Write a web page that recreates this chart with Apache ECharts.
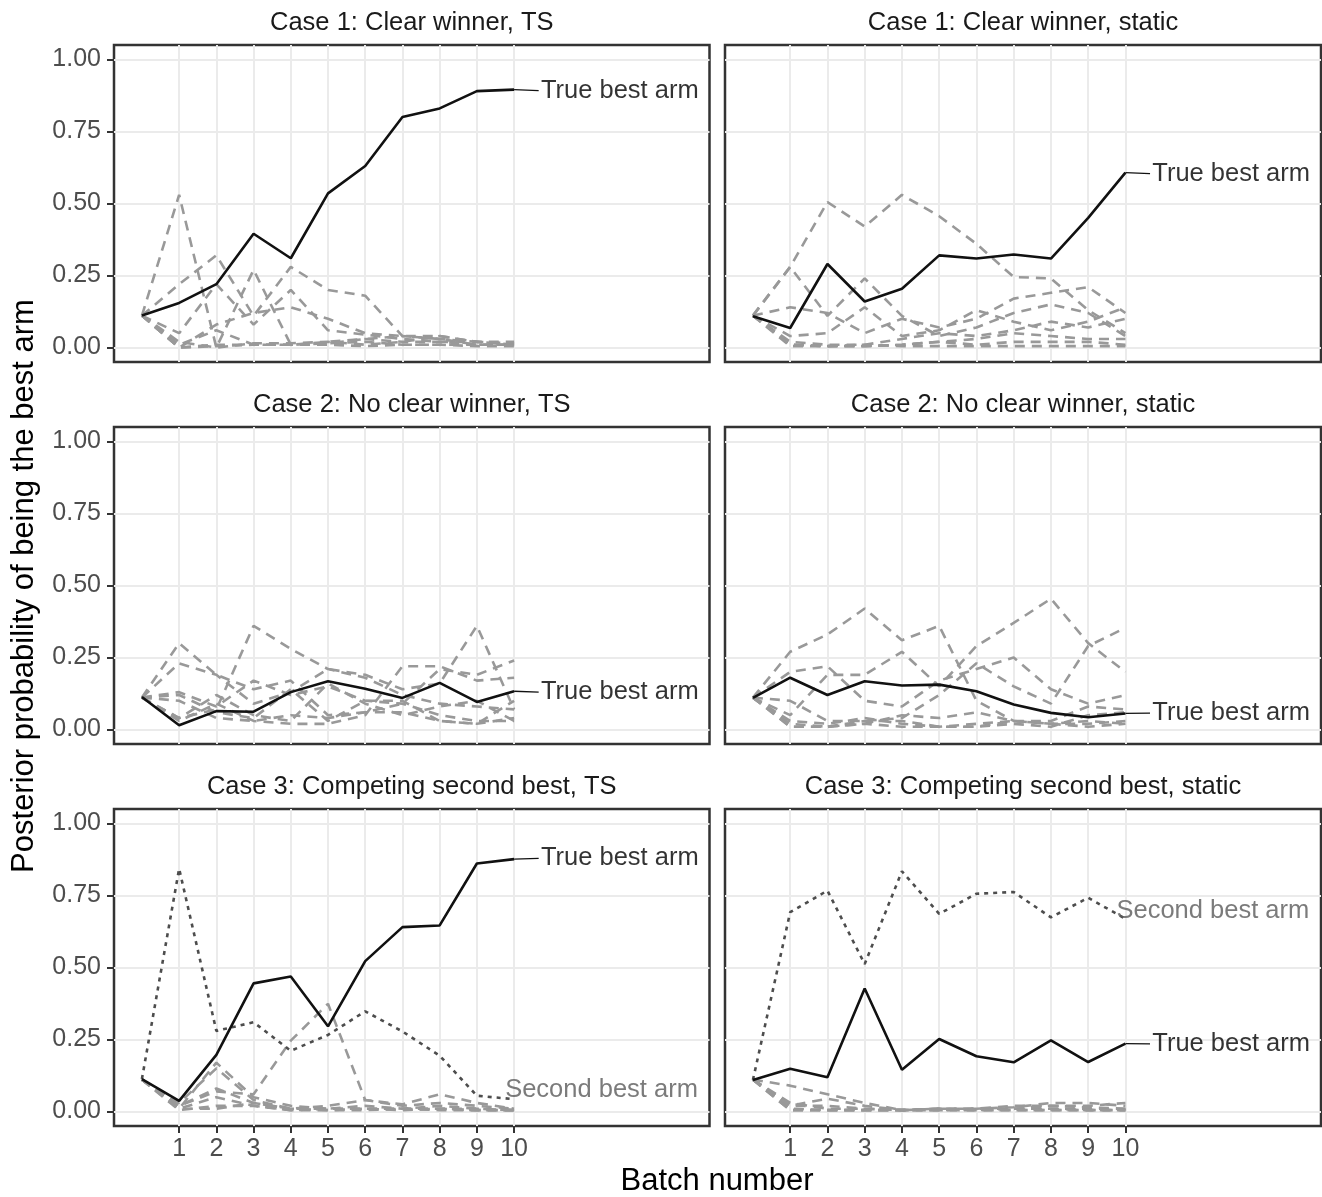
<!DOCTYPE html>
<html><head><meta charset="utf-8">
<script src="https://cdn.jsdelivr.net/npm/echarts@6/dist/echarts.min.js"></script>
<style>html,body{margin:0;padding:0;background:#fff}#c{width:1322px;height:1197px}</style>
</head><body><div id="c"></div>
<script>
// ---------- data ----------
const batches = [0,1,2,3,4,5,6,7,8,9,10];
const xTicks = [1,2,3,4,5,6,7,8,9,10];
const yTicks = [0,0.25,0.5,0.75,1];
const panelTitles = [
  "Case 1: Clear winner, TS", "Case 1: Clear winner, static",
  "Case 2: No clear winner, TS", "Case 2: No clear winner, static",
  "Case 3: Competing second best, TS", "Case 3: Competing second best, static"
];
const yAxisTitle = "Posterior probability of being the best arm";
const xAxisTitle = "Batch number";
const bestLabelText = "True best arm";
const secondLabelText = "Second best arm";

// Case 1, TS
const c1tsBest = [0.111,0.155,0.22,0.395,0.31,0.535,0.63,0.80,0.83,0.89,0.895];
const c1tsOthers = [
  [0.111,0.53,0.0,0.27,0.01,0.015,0.02,0.01,0.01,0.01,0.01],
  [0.111,0.22,0.32,0.11,0.28,0.20,0.18,0.04,0.03,0.01,0.01],
  [0.111,0.05,0.22,0.08,0.20,0.06,0.045,0.03,0.02,0.02,0.01],
  [0.111,0.0,0.08,0.12,0.14,0.10,0.05,0.04,0.04,0.02,0.015],
  [0.111,0.01,0.06,0.01,0.01,0.02,0.03,0.02,0.02,0.01,0.01],
  [0.111,0.0,0.01,0.01,0.01,0.015,0.03,0.04,0.03,0.02,0.01],
  [0.111,0.02,0.0,0.015,0.015,0.02,0.01,0.02,0.04,0.02,0.02],
  [0.111,0.0,0.005,0.01,0.01,0.01,0.005,0.01,0.01,0.005,0.005]
];
// Case 1, static
const c1stBest = [0.109,0.068,0.29,0.16,0.204,0.32,0.309,0.323,0.309,0.45,0.607];
const c1stOthers = [
  [0.111,0.28,0.505,0.42,0.53,0.456,0.36,0.245,0.24,0.13,0.05],
  [0.111,0.28,0.11,0.24,0.11,0.04,0.07,0.12,0.15,0.12,0.04],
  [0.111,0.14,0.12,0.05,0.10,0.07,0.10,0.17,0.19,0.21,0.12],
  [0.111,0.04,0.05,0.14,0.04,0.06,0.13,0.09,0.06,0.09,0.14],
  [0.111,0.02,0.01,0.01,0.03,0.05,0.04,0.06,0.09,0.07,0.10],
  [0.111,0.01,0.005,0.005,0.01,0.02,0.03,0.05,0.04,0.03,0.03],
  [0.111,0.005,0.005,0.005,0.01,0.02,0.01,0.02,0.02,0.02,0.01],
  [0.111,0.01,0.005,0.01,0.005,0.005,0.005,0.005,0.005,0.005,0.005]
];
// Case 2, TS
const c2tsBest = [0.113,0.015,0.064,0.062,0.13,0.168,0.142,0.11,0.162,0.096,0.133];
const c2tsOthers = [
  [0.111,0.30,0.19,0.14,0.17,0.05,0.06,0.09,0.21,0.19,0.24],
  [0.111,0.23,0.19,0.09,0.13,0.21,0.19,0.14,0.16,0.36,0.07],
  [0.111,0.04,0.07,0.36,0.28,0.21,0.18,0.12,0.09,0.08,0.07],
  [0.111,0.13,0.08,0.17,0.12,0.15,0.10,0.09,0.05,0.03,0.03],
  [0.111,0.12,0.06,0.04,0.14,0.03,0.10,0.10,0.03,0.02,0.10],
  [0.111,0.03,0.09,0.03,0.02,0.02,0.05,0.22,0.22,0.17,0.18],
  [0.111,0.10,0.04,0.03,0.05,0.04,0.06,0.06,0.03,0.02,0.04],
  [0.111,0.04,0.12,0.05,0.03,0.16,0.09,0.05,0.08,0.10,0.03]
];
// Case 2, static
const c2stBest = [0.11,0.18,0.12,0.168,0.153,0.156,0.133,0.087,0.058,0.043,0.056];
const c2stOthers = [
  [0.111,0.27,0.33,0.42,0.31,0.36,0.10,0.03,0.02,0.03,0.02],
  [0.111,0.05,0.19,0.19,0.27,0.15,0.29,0.37,0.454,0.30,0.20],
  [0.111,0.20,0.22,0.10,0.08,0.17,0.21,0.25,0.14,0.09,0.12],
  [0.111,0.10,0.03,0.03,0.04,0.12,0.23,0.15,0.09,0.29,0.353],
  [0.111,0.02,0.01,0.02,0.05,0.04,0.06,0.03,0.03,0.08,0.07],
  [0.111,0.01,0.01,0.03,0.03,0.01,0.01,0.02,0.01,0.05,0.06],
  [0.111,0.01,0.01,0.02,0.01,0.01,0.01,0.03,0.02,0.02,0.03],
  [0.111,0.03,0.02,0.04,0.02,0.01,0.02,0.03,0.02,0.01,0.02]
];
// Case 3, TS
const c3tsBest = [0.113,0.037,0.197,0.445,0.469,0.296,0.522,0.64,0.646,0.861,0.876];
const c3tsSecond = [0.113,0.843,0.28,0.31,0.211,0.266,0.348,0.278,0.194,0.055,0.043];
const c3tsOthers = [
  [0.111,0.02,0.07,0.06,0.246,0.374,0.04,0.025,0.06,0.03,0.01],
  [0.111,0.01,0.17,0.05,0.02,0.01,0.01,0.01,0.01,0.005,0.005],
  [0.111,0.03,0.15,0.04,0.01,0.02,0.04,0.02,0.03,0.02,0.01],
  [0.111,0.02,0.08,0.03,0.01,0.01,0.02,0.01,0.02,0.01,0.005],
  [0.111,0.01,0.05,0.02,0.005,0.01,0.01,0.01,0.01,0.01,0.005],
  [0.111,0.005,0.02,0.02,0.005,0.005,0.005,0.01,0.005,0.005,0.005],
  [0.111,0.01,0.01,0.03,0.01,0.005,0.01,0.005,0.01,0.005,0.005]
];
// Case 3, static
const c3stBest = [0.11,0.149,0.119,0.427,0.145,0.252,0.192,0.171,0.247,0.172,0.236];
const c3stSecond = [0.11,0.692,0.767,0.512,0.834,0.686,0.756,0.762,0.674,0.742,0.669];
const c3stOthers = [
  [0.111,0.09,0.06,0.03,0.005,0.01,0.01,0.015,0.03,0.03,0.02],
  [0.111,0.02,0.045,0.02,0.005,0.01,0.01,0.02,0.02,0.02,0.03],
  [0.111,0.005,0.005,0.005,0.005,0.01,0.01,0.01,0.01,0.01,0.01],
  [0.111,0.01,0.005,0.005,0.005,0.005,0.005,0.01,0.01,0.005,0.005],
  [0.111,0.03,0.01,0.01,0.005,0.005,0.005,0.005,0.005,0.005,0.005],
  [0.111,0.005,0.005,0.005,0.005,0.005,0.01,0.01,0.02,0.015,0.01],
  [0.111,0.02,0.02,0.01,0.005,0.01,0.005,0.005,0.005,0.005,0.005]
];
// label anchor values (data space)
const bestLabelY = [0.892, 0.604, 0.13, 0.057, 0.879, 0.235];
const secondLabelY = [null, null, null, null, 0.075, 0.695];
const bestLabelX = 10.72;
const secondLabelX = 9.76;

// ---------- build ----------
const FONT = "'Liberation Sans', Arial, Helvetica, sans-serif";
const panels = [
  {best:c1tsBest, second:null, others:c1tsOthers},
  {best:c1stBest, second:null, others:c1stOthers},
  {best:c2tsBest, second:null, others:c2tsOthers},
  {best:c2stBest, second:null, others:c2stOthers},
  {best:c3tsBest, second:c3tsSecond, others:c3tsOthers},
  {best:c3stBest, second:c3stSecond, others:c3stOthers}
];
const colLeft = [114, 725], colWidth = [595.5, 596];
const rowTop = [45, 427, 809], rowHeight = 317;

const grids = [], xAxes = [], yAxes = [], series = [], graphics = [];
const pair = arr => arr.map((v,i) => [batches[i], v]);

panels.forEach((p, i) => {
  const col = i % 2, row = Math.floor(i / 2);
  const bottom = row === 2, left = col === 0;
  grids.push({left: colLeft[col], top: rowTop[row], width: colWidth[col], height: rowHeight,
    show: true, borderColor: '#333333', borderWidth: 2.5, backgroundColor: 'transparent', containLabel: false});
  xAxes.push({type:'value', gridIndex:i, min:-0.75, max:15.25, position:'bottom',
    axisLine:{show:false, onZero:false},
    axisTick:{show:bottom, customValues:xTicks, length:7, lineStyle:{color:'#333333', width:2}},
    axisLabel:{show:bottom, customValues:xTicks, fontSize:25, color:'#4d4d4d', margin:11, fontFamily:FONT},
    splitLine:{show:true, lineStyle:{color:'#ebebeb', width:2}}
  });
  yAxes.push({type:'value', gridIndex:i, min:-0.05, max:1.05, position:'left',
    axisLine:{show:false, onZero:false},
    axisTick:{show:left, customValues:yTicks, length:7, lineStyle:{color:'#333333', width:2}},
    axisLabel:{show:left, customValues:yTicks, fontSize:25, color:'#4d4d4d', margin:13, fontFamily:FONT,
      formatter: v => v.toFixed(2)},
    splitLine:{show:true, lineStyle:{color:'#ebebeb', width:2}}
  });
  p.others.forEach(arr => series.push({type:'line', xAxisIndex:i, yAxisIndex:i, data:pair(arr),
    symbol:'none', silent:true, z:2,
    lineStyle:{color:'#999999', width:2.6, type:[10,7]}}));
  if (p.second) series.push({type:'line', xAxisIndex:i, yAxisIndex:i, data:pair(p.second),
    symbol:'none', silent:true, z:3,
    lineStyle:{color:'#4d4d4d', width:2.6, type:[4,5]}});
  series.push({type:'line', xAxisIndex:i, yAxisIndex:i, data:pair(p.best),
    symbol:'none', silent:true, z:4, lineStyle:{color:'#111111', width:2.6, type:'solid'}});
  // label for true best arm
  const endV = p.best[p.best.length-1];
  series.push({type:'line', xAxisIndex:i, yAxisIndex:i, data:[[batches[batches.length-1], endV],[bestLabelX-0.06, bestLabelY[i]]],
    symbol:'none', silent:true, z:5, lineStyle:{color:'#111111', width:1.3}});
  series.push({type:'scatter', xAxisIndex:i, yAxisIndex:i, data:[[bestLabelX, bestLabelY[i]]],
    symbolSize:0, silent:true, z:6,
    label:{show:true, position:'right', distance:0, formatter:bestLabelText, fontSize:25.5, color:'#000000', fontFamily:FONT}});
  if (secondLabelY[i] !== null) {
    series.push({type:'scatter', xAxisIndex:i, yAxisIndex:i, data:[[secondLabelX, secondLabelY[i]]],
      symbolSize:0, silent:true, z:6,
      label:{show:true, position:'right', distance:0, formatter:secondLabelText, fontSize:25.5, color:'#5a5a5a', fontFamily:FONT}});
  }
  graphics.push({type:'text', x: colLeft[col] + colWidth[col]/2, y: rowTop[row] - 22,
    style:{text: panelTitles[i], fontSize:25.5, fill:'#1a1a1a', fontFamily:FONT, textAlign:'center', textVerticalAlign:'middle'}});
});
graphics.push({type:'text', x:24, y:586, rotation:Math.PI/2,
  style:{text:yAxisTitle, fontSize:31, fill:'#000000', fontFamily:FONT, textAlign:'center', textVerticalAlign:'middle'}});
graphics.push({type:'text', x:717, y:1181,
  style:{text:xAxisTitle, fontSize:31, fill:'#000000', fontFamily:FONT, textAlign:'center', textVerticalAlign:'middle'}});

const chart = echarts.init(document.getElementById('c'), null, {renderer:'canvas'});
chart.setOption({animation:false, backgroundColor:'#ffffff',
  grid:grids, xAxis:xAxes, yAxis:yAxes, series:series, graphic:graphics});
</script></body></html>
